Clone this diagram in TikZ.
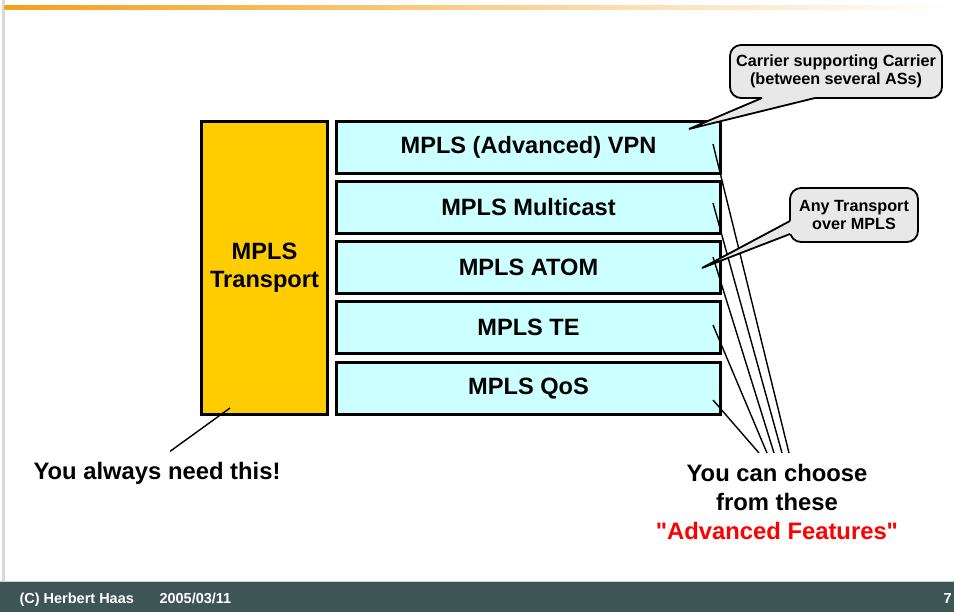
\documentclass[tikz,border=0pt]{standalone}
\usepackage{fontspec}
\setmainfont{Liberation Sans}
\usetikzlibrary{calc}

\definecolor{transorange}{HTML}{FFCC00}
\definecolor{featcyan}{HTML}{CCFFFF}
\definecolor{notegray}{HTML}{E8E8E8}
\definecolor{footslate}{HTML}{3D5555}
\definecolor{barorange}{HTML}{F5A01A}
\definecolor{featred}{HTML}{FF0000}
\newcommand\strq{\XeTeXglyph\XeTeXcharglyph"22\relax}

\begin{document}
\begin{tikzpicture}[x=1pt,y=-1pt,
    feat/.style={draw,line width=3pt,fill=featcyan,minimum width=384pt,minimum height=52pt,
      font=\fontsize{23.6}{27}\selectfont\bfseries},
    note/.style={draw,line width=1.8pt,fill=notegray,rounded corners=11pt,align=center,
      font=\fontsize{16.2}{18.5}\selectfont\bfseries},
    lead/.style={line width=1.4pt},
    bigtext/.style={font=\fontsize{23.8}{29}\selectfont\bfseries,align=center},
    foot/.style={text=white,font=\fontsize{14.5}{16}\selectfont\bfseries,anchor=base west}]
        \useasboundingbox (0,0) rectangle (954,612);
        \fill[white] (0,0) rectangle (954,612);

        % frame of the slide
        \fill[black!15] (2,0) rectangle (4.5,581);
        \shade[left color=barorange,right color=white] (4.5,6) rectangle (954,9.5);
        \fill[footslate] (0,581) rectangle (954,612);
        \draw[black!20,line width=1pt] (0,581) -- (954,581);
        \node[foot] (author) at (16,603) {(C) Herbert Haas};
        \node[foot] (date) at (156,603) {2005/03/11};
        \node[foot] (page) at (940,603) {7};

        % the stack
        \node[draw,line width=3pt,fill=transorange,minimum width=126pt,minimum height=293pt,
          align=center,font=\fontsize{23.6}{28}\selectfont\bfseries] (transport) at (264.5,268) {MPLS\\Transport};
        \node[feat] (vpn) at (528.5,147.5) {MPLS (Advanced) VPN};
        \node[feat] (mcast) at (528.5,207.5) {MPLS Multicast};
        \node[feat] (atom) at (528.5,267.5) {MPLS ATOM};
        \node[feat] (te) at (528.5,327.5) {MPLS TE};
        \node[feat] (qos) at (528.5,388.5) {MPLS QoS};

        % left remark
        \node[bigtext] (need) at (157,473) {You always need this!};
        \coordinate (needtip) at (230,408);
        \draw[lead] (need.north) ++(13,-7) coordinate (needfoot) -- (needtip);

        % right remark
        \node[bigtext] (choose) at (777,502) {You can choose\\from these\\\textcolor{featred}{\strq Advanced Features\strq}};
        \coordinate (vpnpt) at (713,144);
        \coordinate (mcastpt) at (713,203);
        \coordinate (atompt) at (713,257);
        \coordinate (tept) at (713,325);
        \coordinate (qospt) at (713,400);
        \coordinate (endA) at (759,453);
        \coordinate (endB) at (767,453);
        \coordinate (endC) at (774,453);
        \coordinate (endD) at (782,453);
        \coordinate (endE) at (789,453);
        \draw[lead] (qospt) -- (endA);
        \draw[lead] (tept) -- (endB);
        \draw[lead] (atompt) -- (endC);
        \draw[lead] (mcastpt) -- (endD);
        \draw[lead] (vpnpt) -- (endE);

        % callout: carrier supporting carrier
        \node[note,minimum width=212pt,minimum height=53pt] (csc) at (836,71.5)
          {Carrier supporting Carrier\\(between several ASs)};
        \coordinate (csctip) at (689,129);
        \coordinate (cscA) at (762,98);
        \coordinate (cscB) at (815,98);
        \fill[notegray] (cscA) -- (csctip) -- (cscB) -- ($(cscB)+(0,-4)$) -- ($(cscA)+(0,-4)$) -- cycle;
        \draw[line width=1.8pt,line join=miter] (cscA) -- (csctip) -- (cscB);

        % callout: any transport over mpls
        \node[note,minimum width=128pt,minimum height=54pt] (atomnote) at (854,215)
          {Any Transport\\over MPLS};
        \coordinate (atomtip) at (702,268);
        \coordinate (atomA) at (790,221);
        \coordinate (atomB) at (790,234);
        \fill[notegray] (atomA) -- (atomtip) -- (atomB) -- ($(atomB)+(4,0)$) -- ($(atomA)+(4,0)$) -- cycle;
        \draw[line width=1.8pt,line join=miter] (atomA) -- (atomtip) -- (atomB);
\end{tikzpicture}
\end{document}
